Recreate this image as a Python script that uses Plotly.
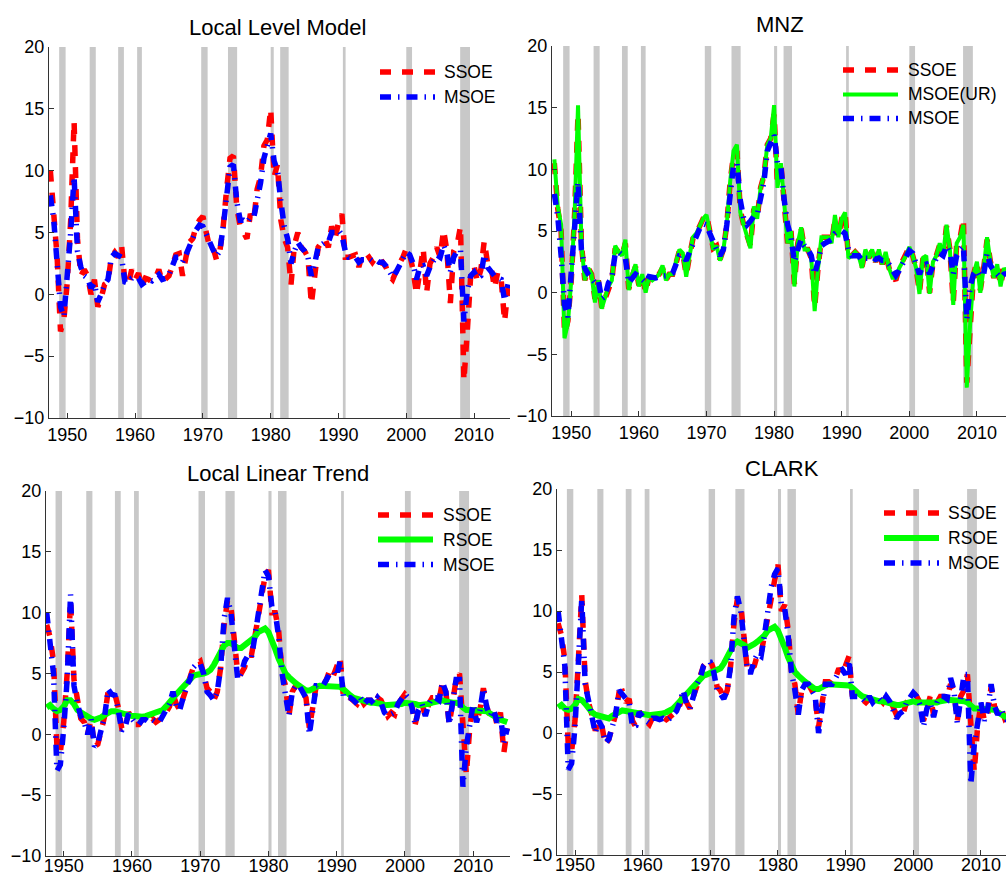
import plotly.graph_objects as go

W, H = 1006, 877
FONT = "Liberation Sans, Arial, sans-serif"

# semi-annual grid 1947.5 ... 2015.0
years = [1947.5 + 0.5 * i for i in range(136)]
xticks = [1950, 1960, 1970, 1980, 1990, 2000, 2010]
yticks = [-10, -5, 0, 5, 10, 15, 20]

recessions = [(1948.8, 1949.75), (1953.3, 1954.2), (1957.5, 1958.35), (1960.3, 1961.0),
              (1969.75, 1970.7), (1973.7, 1975.05), (1980.0, 1980.45), (1981.4, 1982.65),
              (1990.65, 1991.05), (2000.0, 2000.85), (2007.95, 2009.4)]

# ---------------- Local Level Model ----------------
llm_ssoe = [10.0, 6.5, 3.0, -3.0, -2.0,
            1.0, 6.0, 14.0, 4.5, 1.5, 2.0, 1.5, 0.0, 1.2, -1.0,
            -0.3, 0.8, 1.0, 3.0, 3.4, 3.0, 4.0, 1.0, 0.8, 2.0,
            1.2, 1.7, 0.7, 1.3, 1.2, 1.0, 1.3, 2.0, 1.0, 1.3,
            1.5, 2.3, 3.2, 3.3, 1.5, 3.0, 4.2, 4.5, 5.5, 6.0,
            6.3, 5.0, 3.8, 3.8, 2.8, 3.5, 5.5, 8.5, 11.0, 11.2,
            7.0, 5.5, 5.0, 4.5, 6.5, 6.0, 8.5, 9.5, 12.0, 12.5,
            15.0, 9.5, 10.5, 6.0, 4.5, 3.8, 0.8, 4.0, 5.0, 3.8,
            3.5, 3.0, -0.8, 2.0, 3.8, 4.2, 4.5, 3.8, 5.5, 4.5,
            5.8, 6.5, 3.0, 3.0, 3.1, 3.2, 2.2, 3.2, 2.8, 3.0,
            2.6, 3.0, 2.5, 2.6, 2.2, 1.5, 1.2, 2.0, 2.5, 3.0,
            3.7, 3.2, 2.0, 0.0, 2.3, 3.7, 0.1, 2.5, 3.0, 3.8,
            3.0, 5.2, 3.5, -0.7, 3.5, 4.0, 5.5, -7.0, -3.0, 1.5,
            2.3, 1.0, 2.0, 4.3, 2.5, 2.3, 0.5, 1.8, 1.2, -2.2, 0.5]
llm_msoe = [8.0, 6.0, 2.5, -1.0, -1.8,
            1.5, 5.0, 9.5, 3.5, 2.2, 1.5, 1.3, 0.5, 0.9, -0.6,
            0.0, 0.8, 1.2, 3.0, 3.3, 3.2, 3.0, 1.0, 0.9, 1.3,
            1.4, 1.3, 0.8, 1.0, 1.2, 1.1, 1.3, 1.6, 1.2, 1.3,
            1.6, 2.2, 3.0, 3.0, 2.6, 3.2, 4.0, 4.5, 5.2, 5.6,
            5.5, 4.8, 4.0, 3.6, 3.1, 3.5, 5.5, 8.0, 10.3, 10.5,
            7.5, 6.0, 6.0, 5.8, 6.2, 6.2, 7.5, 9.0, 11.0, 12.0,
            13.0, 10.8, 10.0, 7.5, 5.5, 4.5, 2.5, 3.5, 4.2, 3.8,
            3.5, 3.0, 1.5, 2.5, 3.8, 4.0, 4.2, 4.2, 5.0, 5.0,
            5.2, 4.8, 3.5, 3.0, 3.0, 3.0, 2.6, 2.8, 2.8, 2.9,
            2.7, 2.8, 2.6, 2.6, 2.3, 1.8, 1.4, 1.8, 2.4, 2.8,
            3.4, 3.2, 2.5, 1.2, 2.2, 2.3, 1.5, 2.2, 2.8, 3.2,
            3.0, 4.0, 3.3, 1.8, 3.0, 3.5, 3.6, -2.2, 0.3, 1.5,
            1.8, 1.3, 1.5, 3.2, 2.2, 1.8, 1.5, 1.3, 1.2, -0.5, 0.8]

# ---------------- MNZ ----------------
mnz_ssoe = [10.5, 6.8, 5.0, -3.3, -2.3,
            1.0, 6.5, 14.5, 4.0, 1.0, 2.0, 1.5, -0.5, 1.0, -1.2,
            -0.4, 0.5, 1.0, 3.6, 3.3, 3.0, 4.0, 0.3, 1.3, 2.1,
            0.6, 1.5, 0.0, 1.3, 1.0, 1.2, 1.5, 2.0, 1.0, 1.5,
            1.5, 2.4, 3.4, 3.2, 1.4, 3.0, 4.4, 4.8, 5.5, 6.0,
            6.3, 5.0, 3.6, 3.8, 2.7, 3.5, 5.5, 9.0, 11.2, 11.5,
            6.7, 5.5, 4.6, 3.8, 6.8, 6.0, 8.5, 9.5, 12.0, 12.5,
            14.5, 8.7, 10.5, 7.3, 4.0, 5.0, 0.7, 4.0, 5.2, 3.5,
            3.5, 2.8, -1.2, 2.0, 4.5, 4.5, 4.5, 4.0, 6.0, 4.5,
            6.0, 6.5, 2.8, 3.0, 3.3, 3.0, 2.1, 3.4, 2.8, 3.4,
            2.5, 3.4, 2.3, 3.2, 2.0, 1.3, 1.0, 2.0, 2.5, 3.0,
            3.7, 3.0, 2.0, 0.0, 2.7, 3.0, 0.0, 2.5, 3.0, 3.9,
            3.0, 5.4, 3.5, -0.8, 3.9, 4.4, 6.0, -7.3, -2.5, 1.5,
            2.5, 0.2, 2.0, 4.3, 2.5, 1.2, 2.3, 0.6, 2.0, 1.5, 1.8]
mnz_msoe_ur = [10.8, 7.0, 5.5, -3.7, -2.5,
               1.0, 6.5, 15.2, 4.0, 1.0, 2.0, 1.5, -0.8, 1.0, -1.3,
               -0.5, 0.5, 1.0, 3.8, 3.3, 3.0, 4.3, 0.2, 1.5, 2.3,
               0.5, 1.5, 0.0, 1.3, 1.0, 1.2, 1.5, 2.2, 1.0, 1.5,
               1.5, 2.5, 3.5, 3.2, 1.3, 3.0, 4.5, 4.8, 5.5, 6.0,
               6.3, 5.0, 3.5, 3.8, 2.6, 3.5, 5.5, 9.0, 11.5, 12.0,
               6.5, 5.5, 4.5, 3.6, 7.0, 6.0, 8.5, 9.5, 12.0, 12.5,
               15.2, 8.5, 10.5, 7.5, 4.0, 5.0, 0.5, 4.0, 5.3, 3.5,
               3.5, 2.8, -1.5, 2.0, 4.5, 4.5, 4.5, 4.0, 6.3, 4.5,
               6.0, 6.5, 2.8, 3.0, 3.3, 3.0, 2.0, 3.5, 2.8, 3.5,
               2.5, 3.5, 2.3, 3.3, 2.0, 1.2, 1.2, 2.0, 2.5, 3.0,
               3.7, 3.0, 2.0, -0.1, 2.8, 3.0, -0.1, 2.5, 3.0, 4.0,
               3.0, 5.5, 3.5, -1.0, 4.0, 4.5, 5.5, -7.7, -2.5, 1.5,
               2.5, 0.0, 2.0, 4.5, 2.5, 1.2, 2.3, 0.5, 2.0, 1.5, 1.8]
mnz_msoe = [8.0, 6.2, 3.0, -1.0, -2.0,
            1.5, 5.0, 9.0, 3.5, 2.0, 1.5, 1.2, 0.8, 1.0, -0.5,
            -0.3, 0.8, 1.2, 3.2, 3.3, 3.0, 2.8, 0.8, 1.2, 1.5,
            1.3, 1.0, 0.8, 1.3, 1.2, 1.2, 1.3, 1.3, 1.3, 1.4,
            1.6, 2.2, 3.0, 3.0, 2.6, 3.3, 4.0, 4.5, 5.2, 5.6,
            5.5, 4.8, 4.0, 3.5, 3.0, 3.5, 5.5, 8.0, 10.3, 10.5,
            7.5, 6.0, 5.5, 5.8, 6.2, 6.3, 7.5, 9.0, 11.5, 12.3,
            12.8, 10.5, 10.2, 7.5, 5.5, 4.5, 2.5, 3.5, 4.3, 3.8,
            3.5, 3.0, 1.5, 2.5, 3.8, 4.0, 4.2, 4.3, 4.8, 5.0,
            5.0, 4.8, 3.5, 3.0, 3.0, 3.0, 2.6, 2.8, 2.8, 2.9,
            2.7, 2.8, 2.6, 2.6, 2.3, 1.8, 1.4, 1.8, 2.4, 2.8,
            3.4, 3.2, 2.5, 1.5, 2.2, 2.3, 1.5, 2.2, 2.8, 3.2,
            3.0, 3.8, 3.3, 1.5, 3.0, 3.5, 3.8, -2.2, 0.5, 1.5,
            1.8, 1.3, 1.5, 3.2, 2.2, 1.8, 1.5, 1.2, 1.5, 1.6, 1.6]

# ---------------- Local Linear Trend ----------------
llt_ssoe = [9.0, 8.0, 6.0, -1.0, -1.5,
            1.0, 5.0, 11.0, 4.5, 2.5, 1.3, 1.0, 0.0, 1.2, -1.0,
            -0.8, 0.3, 1.5, 3.5, 3.3, 3.3, 2.2, 0.5, 0.5, 1.8,
            1.2, 0.8, 0.8, 1.2, 1.3, 1.0, 1.3, 1.0, 1.2, 1.5,
            1.8, 2.3, 3.3, 2.5, 2.0, 3.0, 3.8, 4.5, 5.5, 5.8,
            6.0, 5.0, 3.8, 3.5, 2.8, 3.5, 5.5, 9.0, 11.0, 10.5,
            8.0, 5.0, 5.0, 5.5, 6.5, 6.5, 8.0, 9.5, 11.5, 13.0,
            13.5, 10.0, 10.0, 8.5, 5.0, 4.0, 1.5, 3.5, 4.0, 4.0,
            3.5, 3.0, 0.5, 2.5, 4.0, 4.2, 4.0, 4.5, 5.3, 4.8,
            5.5, 6.3, 3.0, 3.2, 3.0, 2.8, 2.5, 3.0, 2.5, 2.8,
            2.8, 2.5, 3.0, 2.8, 2.0, 1.5, 1.8, 1.6, 2.5, 3.0,
            3.3, 3.0, 2.5, 0.8, 2.0, 2.5, 1.5, 2.5, 3.0, 3.0,
            2.8, 4.3, 3.5, 0.8, 3.0, 4.5, 5.0, 0.0, -3.3, 0.5,
            2.5, 1.0, 2.0, 3.8, 2.2, 1.5, 2.0, 0.8, 1.8, -1.5, 0.5]
llt_rsoe = [2.2, 2.4, 2.1, 1.9, 2.0,
            2.3, 2.8, 2.8, 2.5, 2.0, 1.8, 1.6, 1.5, 1.3, 1.2,
            1.25, 1.4, 1.6, 1.8, 1.9, 1.9, 1.8, 1.7, 1.6, 1.5,
            1.5, 1.5, 1.45, 1.45, 1.5, 1.6, 1.6, 1.7, 1.8, 2.0,
            2.3, 2.7, 3.0, 3.3, 3.6, 3.9, 4.2, 4.5, 4.8, 4.9,
            4.9, 5.0, 5.1, 5.3, 5.7, 6.2, 6.8, 7.3, 7.5, 7.5,
            7.3, 7.1, 7.1, 7.3, 7.5, 7.7, 8.0, 8.4, 8.6, 8.7,
            8.4, 7.8, 7.0, 6.2, 5.5, 5.0, 4.7, 4.4, 4.2, 4.0,
            3.8, 3.6, 3.6, 3.8, 3.9, 4.0, 4.0, 4.0, 4.0, 4.0,
            4.0, 3.9, 3.7, 3.4, 3.2, 3.0, 2.9, 2.8, 2.7, 2.7,
            2.6, 2.6, 2.6, 2.5, 2.4, 2.4, 2.4, 2.4, 2.4, 2.5,
            2.6, 2.6, 2.5, 2.5, 2.4, 2.4, 2.4, 2.5, 2.6, 2.7,
            2.8, 2.8, 2.7, 2.6, 2.6, 2.6, 2.5, 2.2, 2.0, 2.0,
            2.0, 2.0, 2.0, 2.0, 1.9, 1.7, 1.5, 1.3, 1.2, 1.1, 1.0]
llt_msoe = [10.0, 7.5, 5.0, -3.0, -2.5,
            0.5, 4.5, 11.5, 4.0, 2.5, 1.5, 1.0, 0.0, 1.3, -1.0,
            -0.7, 0.5, 1.5, 3.7, 3.3, 3.2, 2.0, 0.3, 0.6, 1.7,
            1.3, 0.9, 0.8, 1.2, 1.2, 1.0, 1.2, 1.0, 1.0, 1.5,
            1.8, 2.5, 3.5, 2.3, 2.0, 3.0, 4.0, 4.5, 5.5, 5.8,
            5.8, 5.0, 3.5, 3.2, 2.8, 3.5, 5.5, 9.5, 11.2, 10.0,
            7.5, 4.5, 5.0, 6.0, 6.5, 6.3, 8.0, 10.0, 12.0, 13.5,
            13.0, 10.5, 10.0, 8.0, 5.0, 3.5, 1.5, 3.5, 4.0, 4.0,
            3.5, 3.0, 0.0, 2.5, 4.0, 4.0, 4.0, 4.5, 5.0, 5.2,
            4.8, 6.0, 3.0, 3.0, 3.0, 2.8, 2.5, 3.0, 2.5, 2.8,
            2.8, 2.5, 3.0, 2.6, 1.8, 1.5, 1.6, 1.8, 2.5, 3.0,
            3.3, 3.0, 2.3, 0.8, 2.0, 2.5, 1.5, 2.5, 3.0, 3.0,
            2.8, 4.3, 3.5, 0.8, 3.0, 4.5, 4.5, -4.3, -1.0, 1.0,
            2.5, 1.0, 2.0, 3.8, 2.2, 1.5, 2.0, 1.0, 1.5, -0.7, 0.5]

# ---------------- CLARK ----------------
clark_ssoe = [9.0, 8.0, 6.0, -1.0, -1.5,
              1.0, 6.0, 11.3, 4.3, 2.5, 1.5, 0.2, 1.0, 0.5, -1.0,
              -0.5, 0.5, 1.5, 3.3, 3.4, 2.5, 2.8, 1.0, 0.5, 1.8,
              1.2, 1.0, 0.7, 1.3, 1.2, 1.2, 1.3, 1.1, 1.3, 1.5,
              1.8, 2.3, 3.3, 2.5, 2.0, 3.0, 3.8, 4.5, 5.5, 5.8,
              6.0, 5.2, 3.8, 3.5, 2.8, 3.5, 5.5, 9.0, 11.0, 10.5,
              8.0, 5.0, 5.3, 5.5, 6.5, 6.5, 8.0, 9.5, 11.5, 12.5,
              13.8, 10.0, 10.5, 8.5, 5.0, 4.0, 1.5, 3.5, 4.0, 4.0,
              3.5, 2.8, 0.5, 2.5, 4.2, 4.2, 4.0, 4.5, 5.3, 4.8,
              5.5, 6.3, 3.0, 3.2, 3.0, 2.8, 2.5, 2.8, 2.5, 2.8,
              2.8, 2.5, 3.0, 2.8, 2.0, 1.5, 1.8, 1.6, 2.5, 3.0,
              3.3, 3.0, 2.5, 1.0, 2.0, 3.0, 1.5, 2.5, 3.0, 3.0,
              2.8, 4.0, 3.5, 1.0, 3.0, 3.5, 4.8, 0.5, -3.2, 0.5,
              2.5, 1.0, 1.5, 3.8, 2.2, 1.5, 2.0, 1.2, 1.5, 1.5, 1.5]
clark_rsoe = [2.1, 2.3, 2.0, 1.9, 2.0,
              2.3, 2.8, 2.7, 2.4, 2.0, 1.7, 1.5, 1.4, 1.3, 1.2,
              1.2, 1.4, 1.6, 1.8, 1.85, 1.8, 1.75, 1.7, 1.6, 1.5,
              1.5, 1.5, 1.45, 1.5, 1.5, 1.6, 1.6, 1.7, 1.8, 2.0,
              2.3, 2.6, 3.0, 3.3, 3.6, 3.9, 4.2, 4.5, 4.7, 4.8,
              4.9, 5.0, 5.1, 5.3, 5.7, 6.2, 6.8, 7.3, 7.5, 7.4,
              7.2, 7.0, 7.1, 7.3, 7.5, 7.7, 8.0, 8.4, 8.6, 8.7,
              8.4, 7.8, 7.0, 6.2, 5.5, 5.0, 4.7, 4.4, 4.2, 4.0,
              3.8, 3.6, 3.6, 3.8, 3.9, 4.0, 4.0, 4.0, 4.0, 4.0,
              4.0, 3.9, 3.7, 3.4, 3.2, 3.0, 2.9, 2.8, 2.7, 2.7,
              2.6, 2.6, 2.5, 2.4, 2.3, 2.3, 2.3, 2.4, 2.4, 2.5,
              2.6, 2.5, 2.5, 2.4, 2.4, 2.4, 2.4, 2.5, 2.6, 2.7,
              2.7, 2.7, 2.7, 2.6, 2.6, 2.6, 2.5, 2.2, 2.0, 2.0,
              2.0, 2.0, 2.0, 2.0, 1.9, 1.7, 1.5, 1.3, 1.2, 1.1, 1.0]
clark_msoe = [10.0, 8.0, 5.5, -3.0, -2.5,
              0.5, 5.5, 11.0, 4.0, 2.5, 1.5, 0.0, 1.0, 0.5, -0.8,
              -0.5, 0.5, 1.5, 3.5, 3.2, 2.8, 2.5, 0.5, 0.6, 1.7,
              1.3, 1.0, 0.8, 1.2, 1.2, 1.1, 1.2, 1.0, 1.2, 1.5,
              1.8, 2.5, 3.5, 2.3, 2.0, 3.0, 4.0, 4.5, 5.5, 5.8,
              5.8, 5.0, 3.5, 3.2, 2.8, 3.5, 5.5, 9.5, 11.2, 10.0,
              7.5, 5.0, 5.0, 6.0, 6.5, 6.3, 8.0, 10.0, 12.0, 13.0,
              13.5, 10.5, 10.2, 8.0, 5.0, 3.5, 1.5, 3.5, 4.0, 4.0,
              3.5, 3.0, 0.0, 2.5, 4.0, 4.0, 4.0, 4.5, 5.0, 5.2,
              4.8, 6.0, 3.0, 3.0, 3.0, 2.8, 2.5, 3.0, 2.5, 2.8,
              2.8, 2.5, 3.0, 2.6, 1.8, 1.2, 1.6, 1.8, 2.5, 3.0,
              3.3, 3.0, 2.3, 0.5, 2.0, 2.5, 1.3, 2.5, 3.0, 3.0,
              2.8, 4.5, 3.5, 0.8, 3.0, 4.8, 4.8, -4.2, -1.0, 1.0,
              2.5, 1.0, 2.0, 4.0, 2.2, 1.5, 2.0, 1.2, 1.0, 1.2, 1.2]

RED, GREEN, BLUE = "#FF0000", "#00FF00", "#0000FF"
STYLE = {
    "SSOE": dict(color=RED, dash="11px,11px", width=5.5),
    "MSOE": dict(color=BLUE, dash="11px,7px,1.5px,7px", width=5.5),
    "MSOE(UR)": dict(color=GREEN, dash="solid", width=4),
    "RSOE": dict(color=GREEN, dash="solid", width=6),
}

panels = [
    dict(title="Local Level Model", tpos=(277, 28), dx=(49, 510), dy=(47, 418), xr=(1947.3, 2015.3),
         series=[("SSOE", llm_ssoe), ("MSOE", llm_msoe)],
         leg=dict(x0=380, x1=435, tx=442, rows=[72, 97]), bottom=False),
    dict(title="MNZ", tpos=(780, 24), dx=(552, 1006), dy=(46, 416), xr=(1947.15, 2014.3),
         series=[("SSOE", mnz_ssoe), ("MSOE(UR)", mnz_msoe_ur), ("MSOE", mnz_msoe)],
         leg=dict(x0=843, x1=898, tx=906, rows=[70, 94.5, 118.5]), bottom=False),
    dict(title="Local Linear Trend", tpos=(278, 473), dx=(46, 510), dy=(491, 856), xr=(1947.4, 2015.4),
         series=[("SSOE", llt_ssoe), ("RSOE", llt_rsoe), ("MSOE", llt_msoe)],
         leg=dict(x0=378, x1=433, tx=441, rows=[515, 539.5, 564.5]), bottom=True),
    dict(title="CLARK", tpos=(782, 469), dx=(557, 1006), dy=(489, 855), xr=(1947.34, 2013.7),
         series=[("SSOE", clark_ssoe), ("RSOE", clark_rsoe), ("MSOE", clark_msoe)],
         leg=dict(x0=884, x1=939, tx=946, rows=[513, 538, 563]), bottom=True),
]


def px(p):
    return p / W


def py(p):
    return 1 - p / H


fig = go.Figure()
shapes, annotations = [], []
layout = dict(width=W, height=H, margin=dict(l=0, r=0, t=0, b=0, pad=0, autoexpand=False),
              paper_bgcolor="white", plot_bgcolor="rgba(0,0,0,0)", showlegend=False,
              font=dict(family=FONT, color="black"))

axis_common = dict(ticks="inside", ticklen=5, tickwidth=1, tickcolor="#333",
                   showline=True, linecolor="#333", linewidth=1, showgrid=False,
                   zeroline=False, automargin=False,
                   tickfont=dict(family=FONT, size=18, color="black"))

for i, p in enumerate(panels):
    n = "" if i == 0 else str(i + 1)
    xa, ya = "x" + n, "y" + n
    xax = dict(domain=[px(p["dx"][0]), px(p["dx"][1])], range=list(p["xr"]),
               tickvals=xticks, anchor=ya, **axis_common)
    if p["bottom"]:
        # keep the bottom row of year labels inside the page
        xax["ticklabelstandoff"] = -7
    layout["xaxis" + n] = xax
    layout["yaxis" + n] = dict(domain=[py(p["dy"][1]), py(p["dy"][0])], range=[-10, 20],
                               tickvals=yticks, anchor=xa, **axis_common)
    for (a, b) in recessions:
        shapes.append(dict(type="rect", xref=xa, yref=ya + " domain", x0=a, x1=b, y0=0, y1=1,
                           fillcolor="#C8C8C8", line=dict(width=0), layer="below"))
    for name, vals in p["series"]:
        st = STYLE[name]
        fig.add_trace(go.Scatter(x=years, y=vals, mode="lines", name=name, xaxis=xa, yaxis=ya,
                                 line=dict(color=st["color"], dash=st["dash"], width=st["width"])))
    # legend (drawn manually to match sample length)
    lg = p["leg"]
    for (name, _), ry in zip(p["series"], lg["rows"]):
        st = STYLE[name]
        shapes.append(dict(type="line", xref="paper", yref="paper",
                           x0=px(lg["x0"]), x1=px(lg["x1"]), y0=py(ry), y1=py(ry),
                           line=dict(color=st["color"], dash=st["dash"], width=st["width"])))
        annotations.append(dict(text=name, xref="paper", yref="paper", x=px(lg["tx"]), y=py(ry),
                                xanchor="left", yanchor="middle", showarrow=False,
                                font=dict(family=FONT, size=17.5, color="black")))
    annotations.append(dict(text=p["title"], xref="paper", yref="paper",
                            x=px(p["tpos"][0]), y=py(p["tpos"][1]), xanchor="center",
                            yanchor="middle", showarrow=False,
                            font=dict(family=FONT, size=22, color="black")))

layout["shapes"] = shapes
layout["annotations"] = annotations
fig.update_layout(**layout)
fig.write_html("out.html")
